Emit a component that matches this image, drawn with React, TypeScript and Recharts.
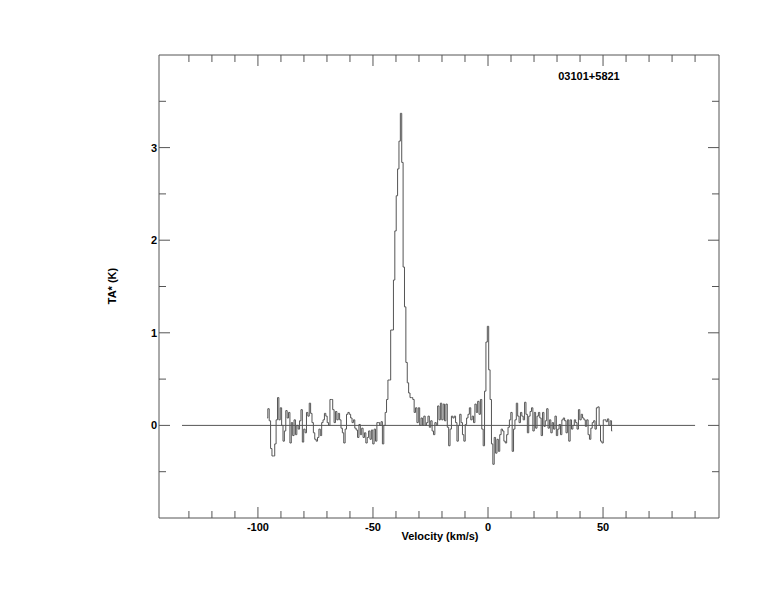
import React from 'react';
import { LineChart, Line, XAxis, YAxis, ReferenceLine } from 'recharts';

// Spectrum: antenna temperature TA* (K) per velocity channel
const V_START = -96; // km/s, first channel
const CHANNEL_WIDTH = 0.6; // km/s
const antennaTemp = [
  0.08, 0.18, 0.05, -0.25, -0.33, -0.33, -0.2, 0.06, 0.3, 0.06,
  0.19, 0.0, -0.17, -0.06, 0.16, 0.08, 0.14, -0.19, 0.03, -0.11,
  0.06, -0.1, 0.0, -0.04, 0.05, 0.17, -0.18, -0.04, -0.08, 0.14,
  0.1, 0.24, 0.13, 0.03, -0.08, -0.15, -0.17, -0.13, -0.04, -0.11,
  0.03, 0.06, 0.13, 0.1, 0.03, 0.0, 0.28, 0.28, 0.17, 0.03,
  0.15, 0.06, 0.13, 0.06, -0.03, -0.08, -0.19, -0.04, 0.12, 0.14,
  0.12, 0.08, 0.03, 0.06, -0.03, -0.05, -0.13, 0.01, -0.1, -0.03,
  -0.13, -0.08, -0.19, -0.13, -0.06, -0.15, -0.05, -0.2, -0.04, -0.17,
  0.03, 0.03, 0.0, 0.04, -0.2, 0.0, 0.14, 0.28, 0.49, 0.49,
  1.03, 1.03, 1.57, 2.1, 2.48, 2.77, 3.07, 3.37, 2.84, 1.71,
  1.28, 0.68, 0.46, 0.35, 0.3, 0.3, 0.28, 0.14, 0.19, 0.03,
  0.19, 0.0, 0.08, 0.0, 0.1, 0.0, 0.03, 0.1, -0.02, 0.05,
  -0.06, -0.1, 0.03, 0.0, 0.21, 0.06, 0.24, 0.06, 0.23, 0.05,
  0.23, -0.02, -0.22, -0.04, 0.1, 0.08, 0.1, 0.03, -0.17, 0.0,
  0.12, 0.03, -0.1, -0.17, 0.01, 0.08, 0.12, 0.19, 0.06, 0.1,
  0.03, 0.23, 0.14, 0.26, 0.12, 0.28, -0.04, -0.22, 0.37, 0.9,
  1.07, 0.6, 0.28, -0.2, -0.42, -0.13, -0.3, -0.15, -0.28, -0.1,
  -0.04, -0.06, -0.17, -0.19, -0.1, -0.02, 0.06, 0.14, -0.28, -0.04,
  0.06, 0.24, 0.1, 0.03, 0.14, 0.1, 0.06, 0.25, 0.12, -0.08,
  0.1, 0.15, 0.19, -0.06, 0.14, -0.03, 0.1, 0.14, 0.08, -0.11,
  0.14, -0.01, 0.05, 0.18, -0.03, 0.06, -0.08, 0.03, -0.04, 0.1,
  -0.11, -0.04, 0.01, -0.1, 0.06, 0.08, 0.05, -0.08, 0.06, -0.17,
  0.06, -0.04, 0.0, 0.06, 0.03, -0.04, 0.17, 0.06, 0.12, 0.08,
  0.06, -0.01, 0.06, -0.1, -0.15, -0.03, 0.03, 0.05, -0.04, 0.19,
  0.2, 0.0, -0.17, -0.19, 0.06, 0.06, 0.04, 0.07, 0.0, 0.05,
  -0.06,
];

const velocityDomain = [-143, 100.4];
const velocityTicks = [-130, -120, -110, -100, -90, -80, -70, -60, -50, -40, -30, -20, -10, 0, 10, 20, 30, 40, 50, 60, 70, 80, 90];
const velocityLabels = [-100, -50, 0, 50];
const tempDomain = [-1, 4];
const tempTicks = [-0.5, 0, 0.5, 1, 1.5, 2, 2.5, 3, 3.5];
const tempLabels = [0, 1, 2, 3];
const baselineRange = [-133, 90];
const sourceName = '03101+5821';
const xTitle = 'Velocity (km/s)';
const yTitle = 'TA* (K)';

const data = antennaTemp.map((t, i) => ({
  v: Math.round((V_START + i * CHANNEL_WIDTH) * 100) / 100,
  t,
}));

const FRAME = '#555';
const LINE = '#555';
const MAJOR = 11;
const MINOR = 7;
const AXIS_W = 30;
const textStyle: React.CSSProperties = {
  fontFamily: '"Liberation Sans", Arial, sans-serif',
  fontWeight: 'bold',
  fontSize: 11,
  fill: '#000',
};

const BottomTick = (p: any) => {
  const { x, y, payload } = p;
  const v = payload.value;
  const major = velocityLabels.includes(v);
  return (
    <g>
      <line x1={x} x2={x} y1={y} y2={y - (major ? MAJOR : MINOR)} stroke={FRAME} strokeWidth={1} />
      {major && (
        <text x={x} y={y + 13} textAnchor="middle" style={textStyle}>
          {v}
        </text>
      )}
    </g>
  );
};

const TopTick = (p: any) => {
  const { x, y, payload } = p;
  const major = velocityLabels.includes(payload.value);
  return <line x1={x} x2={x} y1={y} y2={y + (major ? MAJOR : MINOR)} stroke={FRAME} strokeWidth={1} />;
};

const LeftTick = (p: any) => {
  const { x, y, payload } = p;
  const v = payload.value;
  const major = tempLabels.includes(v);
  return (
    <g>
      <line x1={x} x2={x + (major ? MAJOR : MINOR)} y1={y} y2={y} stroke={FRAME} strokeWidth={1} />
      {major && (
        <text x={x - 2} y={y + 4} textAnchor="end" style={textStyle}>
          {v}
        </text>
      )}
    </g>
  );
};

const RightTick = (p: any) => {
  const { x, y, payload } = p;
  const major = tempLabels.includes(payload.value);
  return <line x1={x} x2={x - (major ? MAJOR : MINOR)} y1={y} y2={y} stroke={FRAME} strokeWidth={1} />;
};

export default function App() {
  return (
    <div style={{ position: 'absolute', left: 0, top: 0, width: 774, height: 612, background: '#fff' }}>
      <LineChart
        width={774}
        height={612}
        data={data}
        margin={{ top: 55 - AXIS_W, right: 55 - AXIS_W, bottom: 94 - AXIS_W, left: 159 - AXIS_W }}
      >
        <XAxis
          xAxisId="b"
          dataKey="v"
          type="number"
          domain={velocityDomain}
          allowDataOverflow
          ticks={velocityTicks}
          interval={0}
          height={AXIS_W}
          tickSize={0}
          tickMargin={0}
          tickLine={false}
          axisLine={{ stroke: FRAME }}
          tick={BottomTick}
          label={() => (
            <text x={440} y={540} textAnchor="middle" style={textStyle}>
              {xTitle}
            </text>
          )}
        />
        <XAxis
          xAxisId="t"
          orientation="top"
          dataKey="v"
          type="number"
          domain={velocityDomain}
          allowDataOverflow
          ticks={velocityTicks}
          interval={0}
          height={AXIS_W}
          tickSize={0}
          tickMargin={0}
          tickLine={false}
          axisLine={{ stroke: FRAME }}
          tick={TopTick}
          label={() => (
            <text x={589} y={80} textAnchor="middle" style={textStyle}>
              {sourceName}
            </text>
          )}
        />
        <YAxis
          yAxisId="l"
          type="number"
          domain={tempDomain}
          allowDataOverflow
          ticks={tempTicks}
          interval={0}
          width={AXIS_W}
          tickSize={0}
          tickMargin={0}
          tickLine={false}
          axisLine={{ stroke: FRAME }}
          tick={LeftTick}
          label={() => (
            <text
              x={112}
              y={286}
              textAnchor="middle"
              dominantBaseline="central"
              transform="rotate(-90, 112, 286)"
              style={textStyle}
            >
              {yTitle}
            </text>
          )}
        />
        <YAxis
          yAxisId="r"
          orientation="right"
          type="number"
          domain={tempDomain}
          allowDataOverflow
          ticks={tempTicks}
          interval={0}
          width={AXIS_W}
          tickSize={0}
          tickMargin={0}
          tickLine={false}
          axisLine={{ stroke: FRAME }}
          tick={RightTick}
        />
        <ReferenceLine
          xAxisId="b"
          yAxisId="l"
          segment={[
            { x: baselineRange[0], y: 0 },
            { x: baselineRange[1], y: 0 },
          ]}
          stroke={LINE}
          strokeWidth={1}
        />
        <Line
          xAxisId="b"
          yAxisId="l"
          type="step"
          dataKey="t"
          stroke={LINE}
          strokeWidth={1}
          dot={false}
          activeDot={false}
          isAnimationActive={false}
        />
      </LineChart>
    </div>
  );
}
